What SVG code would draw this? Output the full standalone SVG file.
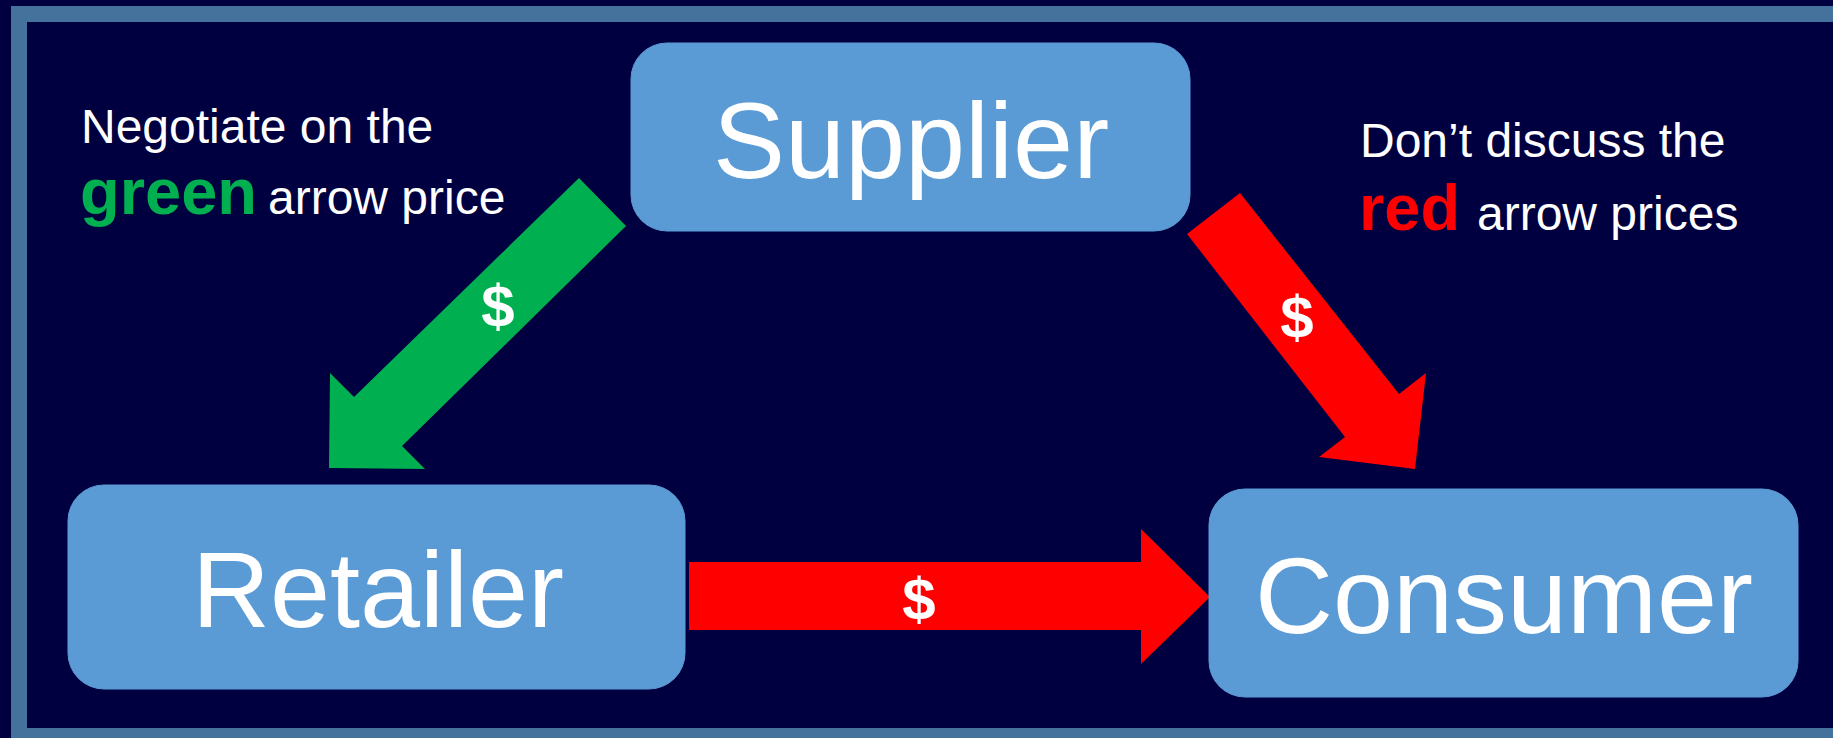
<svg xmlns="http://www.w3.org/2000/svg" width="1833" height="738" viewBox="0 0 1833 738">
  <style>
    .node rect { fill: #5B9BD5; stroke: #5B9BD5; stroke-width: 1; }
    .label { font-family: "Liberation Sans", Arial, sans-serif; fill: #FFFFFF; }
    .big { font-size: 108px; text-anchor: middle; }
    .note { font-size: 48px; }
    .bold { font-weight: bold; font-size: 65px; }
    .dollar { font-family: "Liberation Sans", Arial, sans-serif; font-weight: bold; font-size: 60px; fill: #FFFFFF; text-anchor: middle; }
  </style>
  <rect x="0" y="0" width="1833" height="738" fill="#000040"/>
  <rect x="19" y="14" width="1850" height="722" fill="none" stroke="#44729C" stroke-width="16"/>

  <g id="connectors">
    <g id="supplier-retailer">
      <polygon points="579,178 626,226 402,446 425,469 329,468 330,373 354,397" fill="#00B050"/>
      <text class="dollar" x="498" y="327">$</text>
    </g>
    <g id="supplier-consumer">
      <polygon points="1240,193 1399,394 1426,373 1415,469 1319,457 1345,437 1187,234" fill="#FF0000"/>
      <text class="dollar" x="1297" y="338">$</text>
    </g>
    <g id="retailer-consumer">
      <polygon points="689,562 1141,562 1141,529 1210,597 1141,664 1141,630 689,630" fill="#FF0000"/>
      <text class="dollar" x="919" y="620">$</text>
    </g>
  </g>

  <g id="supplier" class="node">
    <rect x="631" y="43" width="559" height="188" rx="36" ry="36"/>
    <text class="label big" x="911" y="178">Supplier</text>
  </g>
  <g id="retailer" class="node">
    <rect x="68" y="485" width="617" height="204" rx="36" ry="36"/>
    <text class="label big" x="378" y="627">Retailer</text>
  </g>
  <g id="consumer" class="node">
    <rect x="1209" y="489" width="589" height="208" rx="36" ry="36"/>
    <text class="label big" x="1504" y="633">Consumer</text>
  </g>

  <g id="note-left">
    <text class="label note" x="81" y="143">Negotiate on the</text>
    <text class="label" y="214"><tspan class="bold" x="80" style="fill:#00B050">green</tspan><tspan class="note" x="268">arrow price</tspan></text>
  </g>
  <g id="note-right">
    <text class="label note" x="1360" y="157">Don’t discuss the</text>
    <text class="label" y="230"><tspan class="bold" x="1359" style="fill:#FF0000">red</tspan><tspan class="note" x="1477">arrow prices</tspan></text>
  </g>
</svg>
